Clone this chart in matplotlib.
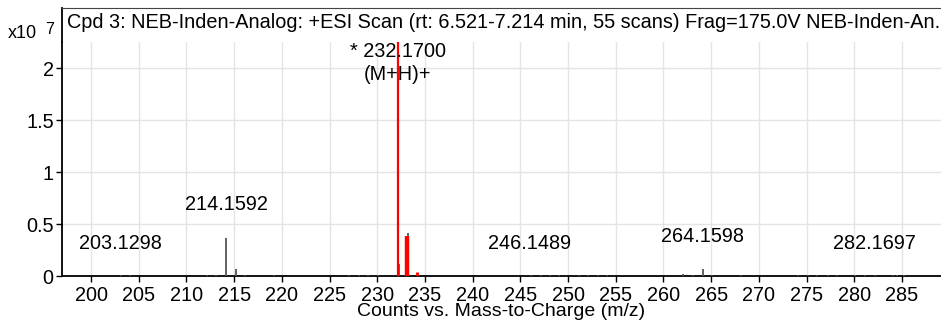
import matplotlib.pyplot as plt

plt.rcParams["font.family"] = ["Liberation Sans", "DejaVu Sans"]

# spectrum, intensities in units of 1e7 counts
mz_gray = [199.1, 203.13, 204.1, 212.2, 213.1, 214.16, 215.16, 216.1, 219.2,
           224.0, 227.0, 228.1, 229.0, 230.1, 232.28, 233.26, 234.25,
           245.0, 246.15, 247.2, 248.1, 249.1, 250.0, 251.2, 252.1, 253.1, 254.1,
           262.1, 263.1, 264.16, 265.1, 268.1, 274.1, 275.1, 276.1, 277.2,
           278.2, 280.1, 281.1, 282.17, 284.1, 284.5, 285.2]
int_gray = [0.004, 0.008, 0.008, 0.006, 0.01, 0.37, 0.065, 0.01, 0.008,
            0.004, 0.005, 0.006, 0.005, 0.012, 0.12, 0.41, 0.012,
            0.004, 0.008, 0.006, 0.005, 0.005, 0.004, 0.005, 0.005, 0.006, 0.006,
            0.022, 0.008, 0.065, 0.008, 0.006, 0.006, 0.005, 0.006, 0.005,
            0.005, 0.006, 0.006, 0.006, 0.008, 0.008, 0.006]
mz_red = [232.17, 233.17, 234.17]
int_red = [2.25, 0.385, 0.04]
red_widths = [1.6, 3.2, 2.0]

peak_labels = ["203.1298", "214.1592", "* 232.1700", "(M+H)+", "246.1489", "264.1598", "282.1697"]
label_x = [203.05, 214.15, 232.13, 232.13, 246.0, 264.05, 282.1]
label_y = [0.317, 0.683, 2.154, 1.94, 0.317, 0.375, 0.317]

title = "Cpd 3: NEB-Inden-Analog: +ESI Scan (rt: 6.521-7.214 min, 55 scans) Frag=175.0V NEB-Inden-An."

fig = plt.figure(figsize=(9.41, 3.23), dpi=100)
ax = fig.add_axes([62 / 941, 47 / 323, 879 / 941, 234 / 323])
hdr = fig.add_axes([62 / 941, 281 / 323, 879 / 941, 34 / 323])

ax.vlines(mz_gray, 0, int_gray, color="#555555", lw=1.3, zorder=3)
for m, v, w in zip(mz_red, int_red, red_widths):
    ax.vlines(m, 0, v, color="#ff0000", lw=w, zorder=4)

for t, x, y in zip(peak_labels, label_x, label_y):
    ax.text(x, y, t, ha="center", va="center", fontsize=14.3, zorder=5)

ax.set_xlim(196.96, 289.09)
ax.set_ylim(0, 2.25)
ax.set_xticks(range(200, 290, 5))
ax.set_yticks([0, 0.5, 1, 1.5, 2])
ax.set_yticklabels(["0", "0.5", "1", "1.5", "2"])
ax.tick_params(labelsize=14.3, length=4, width=1)
ax.tick_params(axis="x", pad=3)
ax.tick_params(axis="y", pad=2)
ax.grid(True, color="#e4e4e4", lw=1)
ax.set_axisbelow(True)
ax.spines["top"].set_visible(False)
ax.spines["right"].set_visible(False)
ax.spines["left"].set_linewidth(1.3)
ax.spines["bottom"].set_linewidth(1.3)

fig.text(501 / 941, 1 - 312 / 323, "Counts vs. Mass-to-Charge (m/z)",
         ha="center", va="center", fontsize=14)

hdr.set_xticks([])
hdr.set_yticks([])
hdr.spines["right"].set_visible(False)
hdr.spines["bottom"].set_visible(False)
hdr.spines["left"].set_linewidth(1.3)
hdr.spines["top"].set_color("#444444")
hdr.text(0.006, 0.58, title, ha="left", va="center", fontsize=14.3, transform=hdr.transAxes)

fig.text(8 / 941, 1 - 34 / 323, "x10", ha="left", va="center", fontsize=13)
fig.text(45 / 941, 1 - 29 / 323, "7", ha="left", va="center", fontsize=11.5)

fig.savefig("out.png", dpi=100)
